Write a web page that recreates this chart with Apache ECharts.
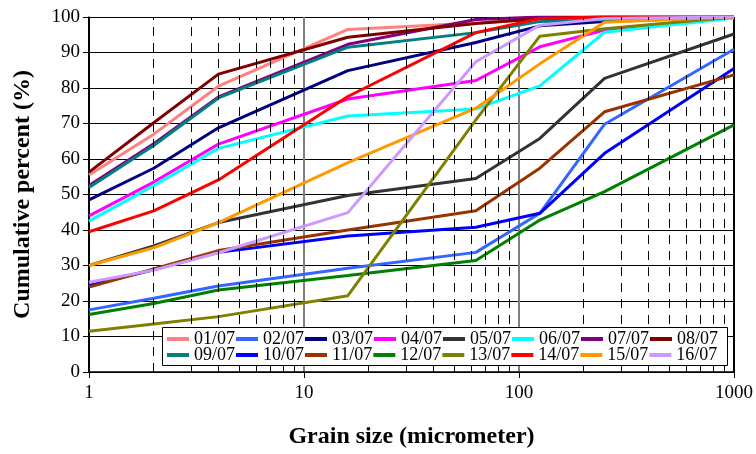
<!DOCTYPE html>
<html>
<head>
<meta charset="utf-8">
<script src="https://cdn.jsdelivr.net/npm/echarts@6/dist/echarts.min.js"></script>
<style>html,body{margin:0;padding:0;background:#fff}#c{width:756px;height:454px}</style>
</head>
<body>
<div id="c"></div>
<script>
// Grain sizes (micrometer)
var sizes = [1, 2, 4, 16, 63, 125, 250, 1000];
var seriesNames = ['01/07','02/07','03/07','04/07','05/07','06/07','07/07','08/07',
                   '09/07','10/07','11/07','12/07','13/07','14/07','15/07','16/07'];
var s0107 = [55.5, 67.0, 80.5, 96.5, 98.3, 99.5, 100, 100];
var s0207 = [17.5, 20.8, 24.2, 29.2, 33.7, 44.7, 69.8, 90.9];
var s0307 = [48.5, 57.4, 68.8, 84.9, 92.8, 97.5, 98.7, 100];
var s0407 = [44.0, 53.5, 64.2, 76.9, 82.1, 91.6, 96.3, 100];
var s0507 = [30.0, 35.5, 42.1, 49.7, 54.5, 65.8, 82.7, 95.2];
var s0607 = [42.5, 52.5, 63.0, 72.1, 74.1, 80.6, 95.7, 99.7];
var s0707 = [52.5, 64.3, 77.5, 92.3, 99.3, 100, 100, 100];
var s0807 = [56.3, 70.2, 83.9, 94.3, 98.2, 99.5, 100, 100];
var s0907 = [52.0, 63.8, 77.2, 91.5, 95.6, 98.7, 99.2, 100];
var s1007 = [24.4, 28.8, 33.7, 38.3, 40.8, 44.7, 61.6, 85.5];
var s1107 = [23.9, 29.0, 34.2, 40.0, 45.4, 57.4, 73.3, 83.7];
var s1207 = [16.2, 19.3, 23.1, 27.2, 31.4, 42.8, 50.8, 69.6];
var s1307 = [11.5, 13.5, 15.6, 21.5, 71.0, 94.6, 96.7, 100];
var s1407 = [39.5, 45.4, 54.1, 77.6, 95.6, 99.6, 100, 100];
var s1507 = [30.0, 35.0, 42.1, 59.0, 74.3, 86.8, 98.5, 100];
var s1607 = [25.3, 28.7, 33.6, 44.9, 87.4, 97.7, 99.6, 100];
var allValues = [s0107,s0207,s0307,s0407,s0507,s0607,s0707,s0807,
                 s0907,s1007,s1107,s1207,s1307,s1407,s1507,s1607];
var colors = ['#FF8080','#3366FF','#000080','#FF00FF','#333333','#00FFFF','#800080','#800000',
              '#008080','#0000FF','#993300','#008000','#808000','#FF0000','#FF9900','#CC99FF'];
// minor (dashed) vertical grid positions
var minorLines = [2,3,4,5,6,7,8,9,20,30,40,50,60,70,80,90,200,300,400,500,600,700,800,900];
var yTicks = {min: 0, max: 100, interval: 10};

var FONT = 'Liberation Serif';
var series = seriesNames.map(function (n, i) {
  return {
    name: n, type: 'line', showSymbol: false, symbol: 'none',
    lineStyle: {width: 3, color: colors[i]}, itemStyle: {color: colors[i]},
    z: 3,
    data: sizes.map(function (x, j) { return [x, allValues[i][j]]; })
  };
});
series.unshift({
  name: '_grid', type: 'line', data: [], z: 1, silent: true,
  markLine: {
    silent: true, symbol: 'none', animation: false,
    label: {show: false},
    lineStyle: {type: [9, 7], color: '#000', width: 1},
    data: minorLines.map(function (v) { return {xAxis: v}; })
  }
});

var legendText = {fontFamily: FONT, fontSize: 18, color: '#000', width: 42, overflow: 'none'};
var chart = echarts.init(document.getElementById('c'), null, {renderer: 'canvas'});
chart.setOption({
  animation: false,
  backgroundColor: '#fff',
  grid: {left: 89, right: 22, top: 17, bottom: 82},
  xAxis: {
    type: 'log', logBase: 10, min: 1, max: 1000,
    name: 'Grain size (micrometer)', nameLocation: 'middle', nameGap: 53,
    nameTextStyle: {fontFamily: FONT, fontSize: 24, fontWeight: 'bold', color: '#000'},
    axisLine: {show: true, lineStyle: {color: '#000', width: 1.5}},
    axisTick: {show: true, length: 6, lineStyle: {color: '#000'}},
    axisLabel: {fontFamily: FONT, fontSize: 19, color: '#000', margin: 12,
                formatter: function (v) { return String(Math.round(v)); }},
    splitLine: {show: true, lineStyle: {color: ['#000', '#808080', '#808080', '#000'], width: 2}}
  },
  yAxis: {
    type: 'value', min: yTicks.min, max: yTicks.max, interval: yTicks.interval,
    name: 'Cumulative percent (%)', nameLocation: 'middle', nameGap: 54,
    nameTextStyle: {fontFamily: FONT, fontSize: 24, fontWeight: 'bold', color: '#000'},
    axisLine: {show: true, lineStyle: {color: '#000', width: 1.5}},
    axisTick: {show: true, length: 6, lineStyle: {color: '#000'}},
    axisLabel: {fontFamily: FONT, fontSize: 19, color: '#000', margin: 9},
    splitLine: {show: true, lineStyle: {color: '#000', width: 1}}
  },
  graphic: [{
    type: 'rect', zlevel: 1, z: 0, silent: true,
    shape: {x: 162.5, y: 327.5, width: 565, height: 38},
    style: {fill: '#fff', stroke: '#000', lineWidth: 1}
  }],
  legend: [{
    data: seriesNames.slice(0, 8), left: 167, top: 330, padding: 0,
    itemWidth: 22, itemHeight: 4, itemGap: 1, icon: 'rect', zlevel: 1, z: 10,
    textStyle: legendText
  }, {
    data: seriesNames.slice(8), left: 167, top: 346, padding: 0,
    itemWidth: 22, itemHeight: 4, itemGap: 1, icon: 'rect', zlevel: 1, z: 10,
    textStyle: legendText
  }],
  series: series
});
</script>
</body>
</html>
